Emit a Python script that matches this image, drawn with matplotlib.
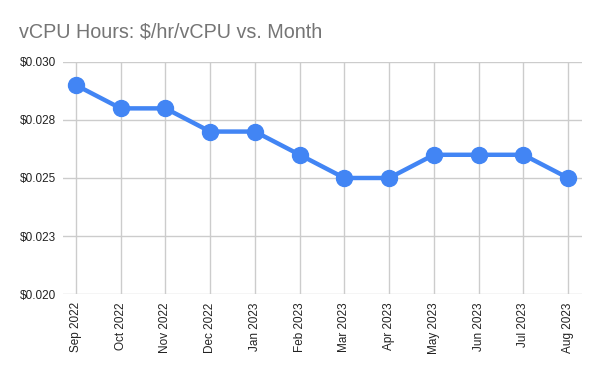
import matplotlib
matplotlib.use('Agg')
import matplotlib.pyplot as plt
from matplotlib.ticker import FuncFormatter

months = ['Sep 2022', 'Oct 2022', 'Nov 2022', 'Dec 2022', 'Jan 2023', 'Feb 2023',
          'Mar 2023', 'Apr 2023', 'May 2023', 'Jun 2023', 'Jul 2023', 'Aug 2023']
price = [0.029, 0.028, 0.028, 0.027, 0.027, 0.026,
         0.025, 0.025, 0.026, 0.026, 0.026, 0.025]
yticks = [0.020, 0.0225, 0.025, 0.0275, 0.030]

plt.rcParams['font.family'] = ['Liberation Sans', 'DejaVu Sans']

fig = plt.figure(figsize=(6, 3.71), dpi=100)
ax = fig.add_axes([0.105, 0.2075, 0.865, 0.6255])

x = list(range(len(months)))
ax.plot(x, price, color='#4285f4', lw=3.2, marker='o', ms=11.5, zorder=3,
        solid_capstyle='round', solid_joinstyle='round')

ax.set_xlim(-0.29, len(months) - 1 + 0.31)
ax.set_ylim(0.020, 0.030)
ax.set_yticks(yticks)
ax.yaxis.set_major_formatter(FuncFormatter(lambda v, p: '${:.3f}'.format(v + 1e-9)))
ax.set_xticks(x)
ax.set_xticklabels(months, rotation=90)

ax.grid(True, color='#cccccc', lw=1)
ax.set_axisbelow(True)
for s in ax.spines.values():
    s.set_visible(False)
ax.tick_params(length=0, labelsize=8.5, colors='#222222', pad=5)
ax.tick_params(axis='x', pad=6)

fig.text(0.032, 0.915, 'vCPU Hours: $/hr/vCPU vs. Month', fontsize=14.2,
         color='#757575', va='center')

fig.savefig('out.png', dpi=100)
